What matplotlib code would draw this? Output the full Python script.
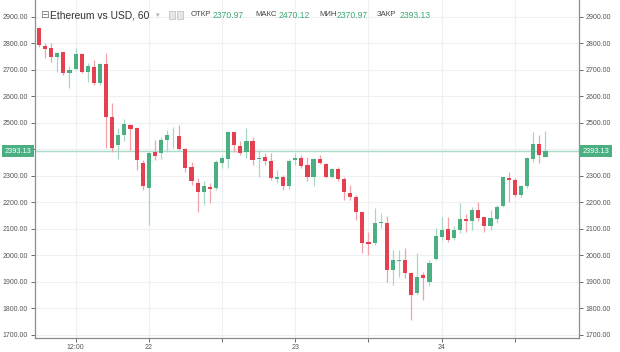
import numpy as np
import matplotlib
matplotlib.use("Agg")
import matplotlib.pyplot as plt
from matplotlib.patches import Rectangle

# hourly candles, hour counted from 21st 00:00
hours = list(range(6, 90))
opens = [2857, 2792, 2782, 2750, 2767, 2687, 2704, 2760, 2691, 2710, 2650, 2723,
         2524, 2417, 2455, 2492, 2480, 2348, 2253, 2392, 2385, 2436, 2453, 2452,
         2400, 2335, 2272, 2241, 2257, 2253, 2350, 2364, 2464, 2413, 2389, 2433,
         2363, 2370, 2357, 2289, 2297, 2260, 2360, 2367, 2341, 2295, 2364, 2345,
         2297, 2325, 2287, 2237, 2222, 2162, 2050, 2046, 2121, 2121, 1945, 1977,
         1983, 1933, 1857, 1925, 1901, 1985, 2071, 2099, 2065, 2096, 2138, 2128,
         2172, 2143, 2109, 2136, 2188, 2291, 2285, 2228, 2260, 2363, 2421, 2370.97]
highs = [2862, 2801, 2803, 2769, 2769, 2713, 2782, 2763, 2725, 2738, 2728, 2763,
         2574, 2480, 2514, 2496, 2484, 2360, 2392, 2436, 2445, 2474, 2486, 2492,
         2404, 2354, 2291, 2279, 2272, 2360, 2379, 2470, 2467, 2430, 2480, 2448,
         2398, 2385, 2385, 2323, 2304, 2365, 2386, 2379, 2373, 2367, 2379, 2348,
         2331, 2335, 2294, 2266, 2228, 2165, 2090, 2178, 2159, 2147, 2021, 2021,
         2027, 1939, 2008, 1939, 1983, 2102, 2146, 2146, 2109, 2199, 2155, 2182,
         2203, 2146, 2172, 2190, 2297, 2316, 2291, 2266, 2373, 2467, 2455, 2470.12]
lows = [2785, 2744, 2731, 2694, 2681, 2631, 2700, 2687, 2656, 2643, 2643, 2404,
        2392, 2363, 2430, 2398, 2323, 2247, 2115, 2360, 2365, 2392, 2404, 2398,
        2316, 2266, 2165, 2190, 2197, 2247, 2329, 2329, 2392, 2379, 2367, 2341,
        2297, 2342, 2285, 2272, 2247, 2250, 2342, 2329, 2279, 2260, 2344, 2291,
        2291, 2279, 2209, 2209, 2134, 2008, 2002, 2040, 2102, 1901, 1889, 1920,
        1914, 1757, 1851, 1832, 1885, 1983, 2058, 2052, 2058, 2084, 2090, 2096,
        2128, 2090, 2096, 2121, 2184, 2203, 2222, 2222, 2253, 2354, 2348, 2370.97]
closes = [2794, 2779, 2750, 2765, 2687, 2700, 2760, 2691, 2715, 2650, 2723, 2521,
          2404, 2455, 2496, 2476, 2360, 2260, 2388, 2375, 2435, 2455, 2455, 2400,
          2331, 2282, 2241, 2262, 2251, 2354, 2367, 2464, 2417, 2388, 2432, 2360,
          2369, 2357, 2291, 2297, 2260, 2358, 2367, 2339, 2295, 2363, 2348, 2297,
          2326, 2289, 2241, 2222, 2165, 2046, 2043, 2121, 2125, 1945, 1983, 1984,
          1933, 1851, 1920, 1914, 1973, 2073, 2096, 2058, 2096, 2136, 2130, 2172,
          2140, 2109, 2140, 2184, 2294, 2285, 2228, 2260, 2367, 2421, 2377, 2393.13]

price_ticks = list(range(1700, 3000, 100))
date_ticks = [12, 24, 36, 48, 60, 72, 84]
date_labels = ["12:00", "22", "", "23", "", "24", ""]
last_price = 2393.13
header_labels = ["ОТКР", "МАКС", "МИН", "ЗАКР"]
header_values = ["2370.97", "2470.12", "2370.97", "2393.13"]

up = "#4caf82"
down = "#e5404f"
up_wick = "#a6d9c0"
down_wick = "#f2a3aa"
grid_c = "#eef0f3"

plt.rcParams['font.family'] = ['Liberation Sans', 'DejaVu Sans']

fig = plt.figure(figsize=(6.2, 3.52), dpi=100)
ax = fig.add_axes([35/620, 14/352, 544/620, 338/352])

for h, o, hi, lo, c in zip(hours, opens, highs, lows, closes):
    col = up if c >= o else down
    wc = up_wick if c >= o else down_wick
    ax.vlines(h, lo, hi, color=wc, linewidth=0.9, zorder=2)
    ax.add_patch(Rectangle((h - 0.34, min(o, c)), 0.68, max(abs(c - o), 3),
                           facecolor=col, edgecolor="none", zorder=3))

ax.axhline(last_price, color="#a9dcc6", linewidth=1.0, zorder=1)

ax.set_xlim(5.35, 94.5)
ax.set_ylim(1688, 2964)
ax.set_yticks(price_ticks)
# the 2400 label sits under the last-price tag
ax.set_yticklabels(["" if abs(v - last_price) < 30 else f"{v:.2f}" for v in price_ticks])
ax.set_xticks(date_ticks)
ax.set_xticklabels(date_labels)
ax.grid(True, color=grid_c, linewidth=0.8, zorder=0)
ax.set_axisbelow(True)

ax.tick_params(axis="y", left=True, right=True, labelleft=True, labelright=True,
               labelsize=5, colors="#555555", length=3, width=0.6, pad=2)
ax.tick_params(axis="x", labelsize=5, colors="#555555", length=3, width=0.6, pad=1.5)
for s in ["left", "right", "bottom"]:
    ax.spines[s].set_color("#8c8c8c")
    ax.spines[s].set_linewidth(0.9)
ax.spines["top"].set_visible(False)

# price tags on both sides
for xpos, ha in [(-0.006, "right"), (1.006, "left")]:
    ax.text(xpos, last_price, f"{last_price:.2f}", transform=ax.get_yaxis_transform(),
            ha=ha, va="center", fontsize=5.3, color="white", zorder=5, clip_on=False,
            bbox=dict(boxstyle="square,pad=0.35", facecolor="#4caf82", edgecolor="none"))

# header line
fig.text(40/620, 1 - 15/352, "⊟", fontsize=7.5, color="#777777", va="center",
         family=['DejaVu Sans'])
fig.text(50/620, 1 - 15/352, "Ethereum vs USD, 60", fontsize=7.4, color="#333333", va="center")
fig.text(156/620, 1 - 15/352, "▾", fontsize=5, color="#aaaaaa", va="center",
         family=['DejaVu Sans'])
for x0 in [169, 177]:
    fig.patches.append(Rectangle((x0/620, 1 - 19/352), 6/620, 8/352, transform=fig.transFigure,
                                 facecolor="#e6e6e6", edgecolor="#bbbbbb", linewidth=0.5))
lab_x = [191, 255, 319, 377]
val_x = [213, 279, 337, 400]
for lx, vx, lab, val in zip(lab_x, val_x, header_labels, header_values):
    fig.text(lx/620, 1 - 15/352, lab, fontsize=5.6, color="#444444", va="center")
    fig.text(vx/620, 1 - 15/352, val, fontsize=6.2, color="#3fa874", va="center")

fig.savefig("out.png", dpi=100, facecolor="white")
